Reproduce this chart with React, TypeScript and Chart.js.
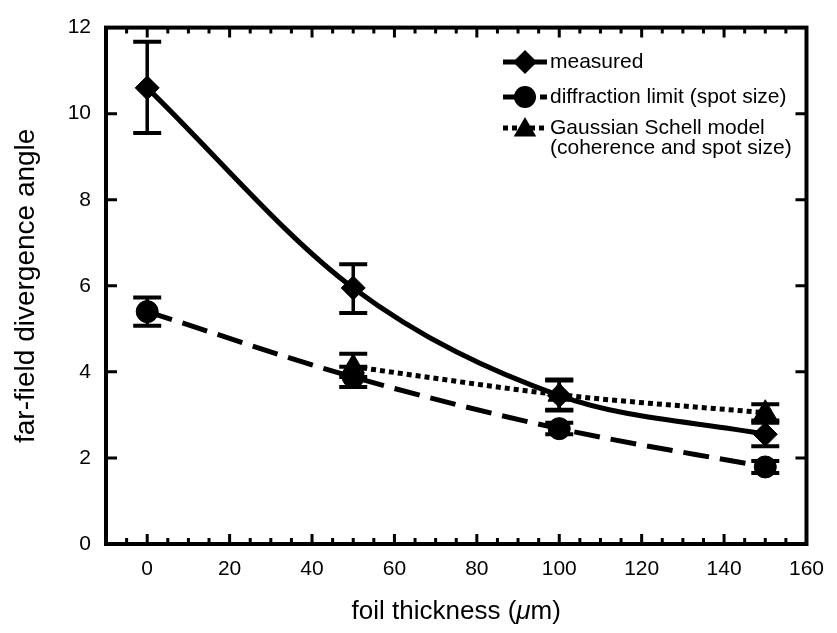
import React, { useEffect, useRef } from "react";
import { Chart, registerables } from "chart.js";

Chart.register(...registerables);

// ---- data ----
const xTickValues = [0, 20, 40, 60, 80, 100, 120, 140, 160];
const yTickValues = [0, 2, 4, 6, 8, 10, 12];

const thickness = [0, 50, 100, 150];
const measured = [10.6, 5.95, 3.45, 2.55];
const measuredLow = [9.55, 5.37, 3.1, 2.27];
const measuredHigh = [11.67, 6.5, 3.8, 2.82];

const diffraction = [5.4, 3.88, 2.68, 1.79];
const diffractionLow = [5.07, 3.65, 2.55, 1.65];
const diffractionHigh = [5.73, 4.12, 2.82, 1.93];

const gsmThickness = [50, 100, 150];
const gsm = [4.12, 3.47, 3.05];
const gsmLow = [3.88, 3.12, 2.87];
const gsmHigh = [4.42, 3.82, 3.25];

const legendLabels = [
  ["measured"],
  ["diffraction limit (spot size)"],
  ["Gaussian Schell model", "(coherence and spot size)"],
];

const xTitleParts = ["foil thickness (", "\u03bc", "m)"];
const yTitle = "far-field divergence angle";

const FONT = "'Liberation Sans', Arial, Helvetica, sans-serif";

const errorSets = [
  { xs: thickness, low: measuredLow, high: measuredHigh },
  { xs: thickness, low: diffractionLow, high: diffractionHigh },
  { xs: gsmThickness, low: gsmLow, high: gsmHigh },
];

const errorBarPlugin = {
  id: "errorBars",
  afterDatasetsDraw(chart: any) {
    const { ctx, scales } = chart;
    const xs = scales.x;
    const ys = scales.y;
    ctx.save();
    ctx.strokeStyle = "#000";
    ctx.lineCap = "butt";
    errorSets.forEach((s) => {
      s.xs.forEach((xv, i) => {
        const px = xs.getPixelForValue(xv);
        const yl = ys.getPixelForValue(s.low[i]);
        const yh = ys.getPixelForValue(s.high[i]);
        ctx.lineWidth = 3.5;
        ctx.beginPath();
        ctx.moveTo(px, yl);
        ctx.lineTo(px, yh);
        ctx.stroke();
        ctx.lineWidth = 4;
        ctx.beginPath();
        ctx.moveTo(px - 14, yl);
        ctx.lineTo(px + 14, yl);
        ctx.moveTo(px - 14, yh);
        ctx.lineTo(px + 14, yh);
        ctx.stroke();
      });
    });
    ctx.restore();
  },
};

function drawMarker(ctx: CanvasRenderingContext2D, style: string, x: number, y: number, r: number) {
  ctx.beginPath();
  if (style === "rectRot") {
    ctx.moveTo(x - r, y);
    ctx.lineTo(x, y - r);
    ctx.lineTo(x + r, y);
    ctx.lineTo(x, y + r);
    ctx.closePath();
  } else if (style === "circle") {
    ctx.arc(x, y, r, 0, Math.PI * 2);
  } else {
    const a = (2 * Math.PI) / 3;
    for (let k = 0; k < 3; k++) {
      const ang = k * a;
      const px = x + Math.sin(ang) * r;
      const py = y - Math.cos(ang) * r;
      if (k === 0) ctx.moveTo(px, py);
      else ctx.lineTo(px, py);
    }
    ctx.closePath();
  }
  ctx.fill();
}

const framePlugin = {
  id: "frameAndTitles",
  afterDraw(chart: any) {
    const { ctx, chartArea, scales } = chart;
    const { left, right, top, bottom } = chartArea;
    const xs = scales.x;
    const ys = scales.y;
    ctx.save();
    ctx.strokeStyle = "#000";
    ctx.fillStyle = "#000";
    ctx.lineCap = "butt";
    // ticks
    ctx.lineWidth = 3;
    ctx.beginPath();
    for (let v = -5; v <= 155; v += 5) {
      const px = xs.getPixelForValue(v);
      const len = v % 20 === 0 ? 10 : 6;
      ctx.moveTo(px, bottom);
      ctx.lineTo(px, bottom - len);
      ctx.moveTo(px, top);
      ctx.lineTo(px, top + len);
    }
    yTickValues.forEach((v) => {
      const py = ys.getPixelForValue(v);
      ctx.moveTo(left, py);
      ctx.lineTo(left + 11, py);
      ctx.moveTo(right, py);
      ctx.lineTo(right - 11, py);
    });
    ctx.stroke();
    // frame
    ctx.lineWidth = 4;
    ctx.strokeRect(left, top, right - left, bottom - top);

    // y title
    ctx.save();
    ctx.translate(34, (top + bottom) / 2);
    ctx.rotate(-Math.PI / 2);
    ctx.font = `28px ${FONT}`;
    ctx.textAlign = "center";
    ctx.textBaseline = "alphabetic";
    ctx.fillText(yTitle, 0, 0);
    ctx.restore();

    // x title with italic mu
    const normal = `26px ${FONT}`;
    const italic = `italic 26px ${FONT}`;
    const fonts = [normal, italic, normal];
    let total = 0;
    const widths = xTitleParts.map((t, i) => {
      ctx.font = fonts[i];
      const w = ctx.measureText(t).width;
      total += w;
      return w;
    });
    let cx = (left + right) / 2 - total / 2;
    ctx.textAlign = "left";
    ctx.textBaseline = "alphabetic";
    xTitleParts.forEach((t, i) => {
      ctx.font = fonts[i];
      ctx.fillText(t, cx, 619);
      cx += widths[i];
    });

    // legend
    const lx0 = 503;
    const lx1 = 547;
    const mx = 525;
    const rows = [62, 97, 128];
    const styles = [
      { dash: [] as number[], marker: "rectRot", r: 12 },
      { dash: [26, 11], marker: "circle", r: 11 },
      { dash: [5, 4], marker: "triangle", r: 13 },
    ];
    styles.forEach((s, i) => {
      const y = rows[i];
      ctx.lineWidth = 5;
      ctx.setLineDash(s.dash);
      ctx.beginPath();
      ctx.moveTo(lx0, y);
      ctx.lineTo(lx1, y);
      ctx.stroke();
      ctx.setLineDash([]);
      drawMarker(ctx, s.marker, mx, s.marker === "triangle" ? y + 2 : y, s.r);
      ctx.font = `21px ${FONT}`;
      ctx.textAlign = "left";
      ctx.textBaseline = "middle";
      legendLabels[i].forEach((line, j) => {
        ctx.fillText(line, 550, y + j * 20);
      });
    });
    ctx.restore();
  },
};

export default function App() {
  const canvasRef = useRef<HTMLCanvasElement | null>(null);

  useEffect(() => {
    const canvas = canvasRef.current;
    if (!canvas) return;
    const chart = new Chart(canvas, {
      type: "line",
      data: {
        datasets: [
          {
            label: "measured",
            data: thickness.map((x, i) => ({ x, y: measured[i] })),
            borderColor: "#000",
            backgroundColor: "#000",
            borderWidth: 5,
            pointStyle: "rectRot",
            pointRadius: 12,
            pointBackgroundColor: "#000",
            pointBorderColor: "#000",
            pointBorderWidth: 1,
            cubicInterpolationMode: "monotone",
          },
          {
            label: "diffraction limit (spot size)",
            data: thickness.map((x, i) => ({ x, y: diffraction[i] })),
            borderColor: "#000",
            backgroundColor: "#000",
            borderWidth: 5,
            borderDash: [26, 11],
            pointStyle: "circle",
            pointRadius: 11,
            pointBackgroundColor: "#000",
            pointBorderColor: "#000",
            pointBorderWidth: 1,
            cubicInterpolationMode: "monotone",
          },
          {
            label: "Gaussian Schell model (coherence and spot size)",
            data: gsmThickness.map((x, i) => ({ x, y: gsm[i] })),
            borderColor: "#000",
            backgroundColor: "#000",
            borderWidth: 5,
            borderDash: [5, 4],
            pointStyle: "triangle",
            pointRadius: 13,
            pointBackgroundColor: "#000",
            pointBorderColor: "#000",
            pointBorderWidth: 1,
            cubicInterpolationMode: "monotone",
          },
        ],
      },
      options: {
        animation: false,
        responsive: true,
        maintainAspectRatio: false,
        layout: { padding: { top: 20, right: 19, left: 0, bottom: 0 } },
        plugins: {
          legend: { display: false },
          tooltip: { enabled: false },
          title: { display: false },
        },
        scales: {
          x: {
            type: "linear",
            min: -10,
            max: 160,
            grid: { display: false, drawTicks: false },
            border: { display: false },
            ticks: {
              padding: 13,
              color: "#000",
              font: { family: FONT, size: 21 },
              maxRotation: 0,
            },
            afterBuildTicks: (scale: any) => {
              scale.ticks = xTickValues.map((v) => ({ value: v }));
            },
            afterFit: (scale: any) => {
              scale.height = 89;
            },
          },
          y: {
            type: "linear",
            min: 0,
            max: 12,
            grid: { display: false, drawTicks: false },
            border: { display: false },
            ticks: {
              padding: 15,
              color: "#000",
              font: { family: FONT, size: 21 },
            },
            afterBuildTicks: (scale: any) => {
              scale.ticks = yTickValues.map((v) => ({ value: v }));
            },
            afterFit: (scale: any) => {
              scale.width = 106;
            },
          },
        },
      },
      plugins: [errorBarPlugin, framePlugin],
    } as any);
    return () => chart.destroy();
  }, []);

  return (
    <div style={{ position: "absolute", left: 0, top: 0, width: 837, height: 633 }}>
      <canvas ref={canvasRef} />
    </div>
  );
}
